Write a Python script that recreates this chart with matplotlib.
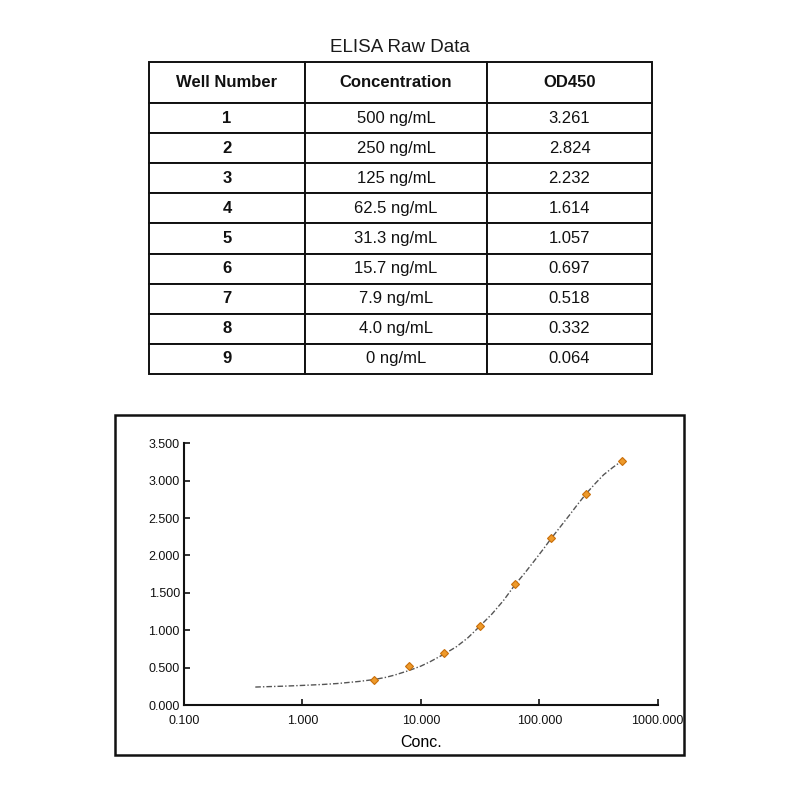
import matplotlib.pyplot as plt
from matplotlib.patches import Rectangle
from matplotlib.ticker import FixedLocator, FixedFormatter

plt.rcParams['font.family'] = ['Liberation Sans', 'DejaVu Sans']

# table data
wells = ["1", "2", "3", "4", "5", "6", "7", "8", "9"]
conc_labels = ["500 ng/mL", "250 ng/mL", "125 ng/mL", "62.5 ng/mL", "31.3 ng/mL",
               "15.7 ng/mL", "7.9 ng/mL", "4.0 ng/mL", "0 ng/mL"]
od_labels = ["3.261", "2.824", "2.232", "1.614", "1.057", "0.697", "0.518", "0.332", "0.064"]
headers = ["Well Number", "Concentration", "OD450"]

# standard points (well 9 = 0 ng/mL not shown on log axis)
conc = [500, 250, 125, 62.5, 31.3, 15.7, 7.9, 4.0]
od = [3.261, 2.824, 2.232, 1.614, 1.057, 0.697, 0.518, 0.332]

# fitted curve
curve_x = [0.4, 0.5, 0.7, 1, 1.5, 2, 3, 4, 5, 6, 7.9, 10, 12, 15.7, 20, 25, 31.3, 40, 50,
           62.5, 75, 90, 110, 125, 150, 180, 210, 250, 300, 350, 420, 500]
curve_y = [0.240, 0.245, 0.252, 0.262, 0.275, 0.288, 0.315, 0.340, 0.368, 0.400, 0.460,
           0.520, 0.580, 0.680, 0.780, 0.900, 1.050, 1.220, 1.400, 1.610, 1.760, 1.920,
           2.100, 2.220, 2.380, 2.540, 2.680, 2.830, 2.970, 3.080, 3.180, 3.265]

x_ticks = [0.1, 1, 10, 100, 1000]
x_tick_labels = ["0.100", "1.000", "10.000", "100.000", "1000.000"]
y_ticks = [0, 0.5, 1, 1.5, 2, 2.5, 3, 3.5]
y_tick_labels = ["0.000", "0.500", "1.000", "1.500", "2.000", "2.500", "3.000", "3.500"]

fig = plt.figure(figsize=(8, 8), dpi=100)

# ---- table ----
fig.text(400 / 800, 1 - 48 / 800, "ELISA Raw Data", ha="center", va="center",
         fontsize=13.5, color="#1a1a1a")
tax = fig.add_axes([149 / 800, 1 - 374 / 800, (652 - 149) / 800, (374 - 62) / 800])
tax.axis("off")
cells = [[w, c, o] for w, c, o in zip(wells, conc_labels, od_labels)]
col_w = [156, 182, 165]
tbl = tax.table(cellText=cells, colLabels=headers, colWidths=[w / sum(col_w) for w in col_w],
                cellLoc="center", bbox=[0, 0, 1, 1])
tbl.auto_set_font_size(False)
row_h = 30.1 / 312
head_h = 41 / 312
for (r, c), cell in tbl.get_celld().items():
    cell.set_linewidth(1.4)
    cell.set_edgecolor("#111111")
    cell.get_text().set_fontsize(12)
    cell.get_text().set_color("#111111")
    cell.set_height(head_h if r == 0 else row_h)
    if r == 0 or c == 0:
        cell.get_text().set_fontweight("bold")

# ---- chart frame ----
fig.patches.append(Rectangle((114.7 / 800, 1 - 755 / 800), (684.3 - 114.7) / 800,
                             (755 - 415.3) / 800, transform=fig.transFigure,
                             fill=False, edgecolor="#111111", linewidth=1.8))

ax = fig.add_axes([184 / 800, 1 - 705 / 800, (657.7 - 184) / 800, (705 - 443.3) / 800])
ax.plot(curve_x, curve_y, color="#555555", linewidth=1.0, linestyle=(0, (4, 1.5, 1, 1.5)))
ax.plot(conc, od, linestyle="none", marker="D", markersize=4.5,
        markerfacecolor="#EE9A2A", markeredgecolor="#C96F0A", markeredgewidth=0.8)
ax.set_xscale("log")
ax.set_xlim(0.1, 1000)
ax.set_ylim(0, 3.5)
ax.xaxis.set_major_locator(FixedLocator(x_ticks))
ax.xaxis.set_major_formatter(FixedFormatter(x_tick_labels))
ax.xaxis.set_minor_locator(FixedLocator([]))
ax.yaxis.set_major_locator(FixedLocator(y_ticks))
ax.yaxis.set_major_formatter(FixedFormatter(y_tick_labels))
ax.tick_params(direction="in", length=4, width=1.2, labelsize=9, colors="#111111")
ax.tick_params(axis="x", pad=7)
ax.tick_params(axis="y", pad=3)
for s in ["top", "right"]:
    ax.spines[s].set_visible(False)
for s in ["left", "bottom"]:
    ax.spines[s].set_linewidth(1.5)
    ax.spines[s].set_color("#111111")
ax.set_xlabel("Conc.", fontsize=11.5, labelpad=6)

fig.savefig("out.png", dpi=100)
